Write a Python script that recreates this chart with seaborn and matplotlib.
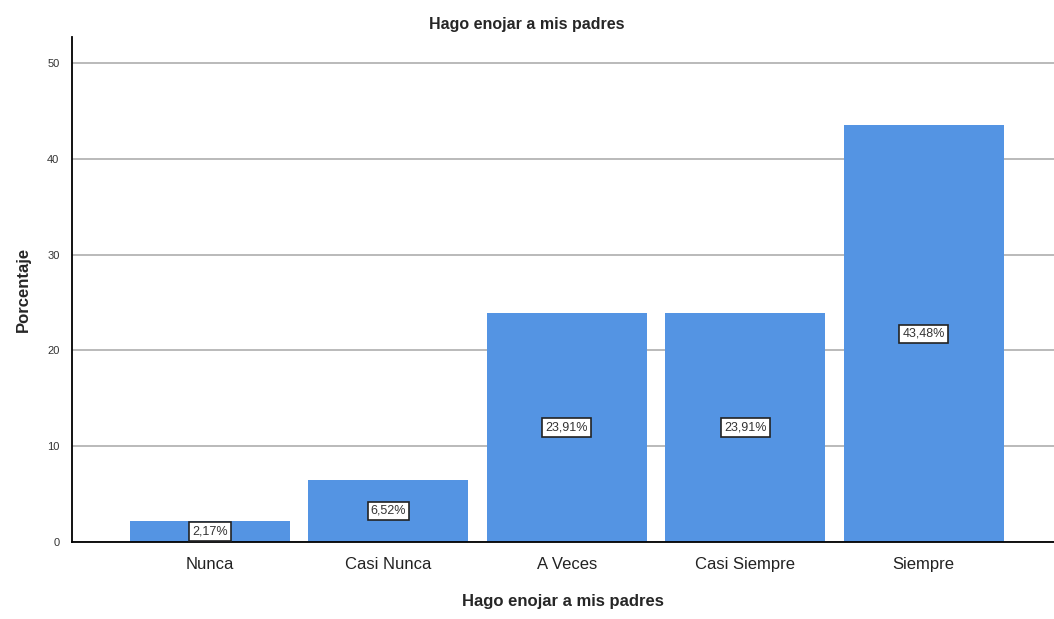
import matplotlib
matplotlib.use("Agg")
import matplotlib.pyplot as plt
import seaborn as sns
import pandas as pd

categories = ["Nunca", "Casi Nunca", "A Veces", "Casi Siempre", "Siempre"]
values = [2.17, 6.52, 23.91, 23.91, 43.48]
yticks = [0, 10, 20, 30, 40, 50]

sns.set_theme(style="white")
plt.rcParams['font.family'] = ['Liberation Sans', 'DejaVu Sans']

df = pd.DataFrame({"cat": categories, "val": values})

fig = plt.figure(figsize=(10.54, 6.19), dpi=100)
ax = fig.add_axes([0.0683, 0.1244, 0.9317, 0.8156])
ax.set_axisbelow(True)
ax.yaxis.grid(True, color="#b4b4b4", linewidth=1.3)
sns.barplot(data=df, x="cat", y="val", color="#5494E3", saturation=1, width=0.896,
            linewidth=0, ax=ax)

for i, v in enumerate(values):
    ax.text(i, v / 2, f"{v:.2f}".replace(".", ",") + "%", ha="center", va="center",
            fontsize=9, color="#333333",
            bbox=dict(boxstyle="square,pad=0.25", facecolor="white", edgecolor="#222222", linewidth=1.2))

ax.set_xlim(-0.773, 4.73)
ax.set_ylim(0, 52.7)
ax.set_yticks(yticks)
ax.tick_params(axis="y", labelsize=8, labelcolor="#333333", length=0, pad=9)
ax.tick_params(axis="x", labelsize=12, labelcolor="#222222", length=0, pad=11)
for s in ["top", "right"]:
    ax.spines[s].set_visible(False)
for s in ["left", "bottom"]:
    ax.spines[s].set_color("black")
    ax.spines[s].set_linewidth(1.3)
ax.set_xlabel("Hago enojar a mis padres", fontsize=12, fontweight="bold", labelpad=16)
ax.set_ylabel("Porcentaje", fontsize=12, fontweight="bold", labelpad=12)
fig.suptitle("Hago enojar a mis padres", fontsize=11.5, fontweight="bold", y=0.972, x=0.5)

fig.savefig("out.png", dpi=100)
